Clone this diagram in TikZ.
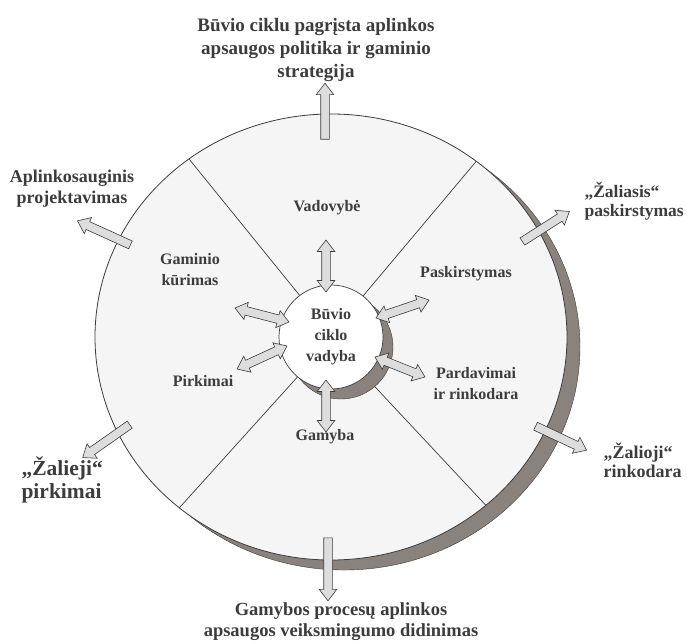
\documentclass[tikz,border=0pt]{standalone}
\usepackage{fontspec}
\setmainfont{Liberation Serif}
\usepackage{tikz}
\usetikzlibrary{calc, shapes.arrows}

\definecolor{inkgray}{HTML}{3C3C3C}
\definecolor{diskfill}{HTML}{F5F5F5}
\definecolor{shadowgray}{HTML}{8A837D}
\definecolor{arrowfill}{HTML}{DDDDDD}

% block arrow from #2 to #3 with style #1
\newcommand{\blockarrow}[3]{%
  \path let \p1=($(#3)-(#2)$), \n1={veclen(\x1,\y1)}, \n2={atan2(\y1,\x1)} in
    node[#1, rotate=\n2, minimum height=\n1] at ($(#2)!0.5!(#3)$) {};}

\begin{document}
\begin{tikzpicture}[
      x=1pt, y=-1pt,
      outarrow/.style={single arrow, draw=inkgray, fill=arrowfill, line width=0.6pt,
        inner sep=0pt, inner ysep=4pt, minimum width=0pt,
        single arrow head extend=4.5pt, single arrow tip angle=75},
      duoarrow/.style={double arrow, draw=inkgray, fill=arrowfill, line width=0.6pt,
        inner sep=0pt, inner ysep=4pt, minimum width=0pt,
        double arrow head extend=4.5pt, double arrow tip angle=75},
      sector/.style={font=\fontsize{16}{21}\selectfont\bfseries, text=inkgray, align=center},
      outer/.style={font=\fontsize{18}{21}\selectfont\bfseries, text=inkgray},
      divider/.style={draw=inkgray, line width=0.7pt}
    ]
    \useasboundingbox (0,0) rectangle (687,643);
    \coordinate (c) at (331,337);

    % disk with its shadow
    \fill[shadowgray, draw=inkgray] ([xshift=13pt, yshift=-10pt]c) ellipse [x radius=236pt, y radius=223pt];
    \draw[fill=diskfill, draw=inkgray, line width=0.8pt] (c) ellipse [x radius=236pt, y radius=223pt];

    \foreach \a in {52,127,230,311}
      \draw[divider] ($(c)+(\a:52pt)$) -- ($(c)+(\a:236pt and 223pt)$);

    % centre
    \fill[shadowgray, draw=inkgray] ([xshift=10pt, yshift=-10pt]c) circle [radius=52pt];
    \node[circle, draw=inkgray, fill=white, line width=0.7pt, minimum size=104pt,
          sector] (core) at (c) {Būvio\\ciklo\\vadyba};

    % arrows
    \blockarrow{outarrow}{325,142}{325,86}
    \blockarrow{outarrow}{133,246}{80,222}
    \blockarrow{outarrow}{520,243}{567,213}
    \blockarrow{outarrow}{132,423}{85,456}
    \blockarrow{outarrow}{533,425}{584,449}
    \blockarrow{outarrow}{328,535}{328,598}

    \blockarrow{duoarrow}{326,240}{326,292}
    \blockarrow{duoarrow}{235,308}{289,322}
    \blockarrow{duoarrow}{237,369}{287,346}
    \blockarrow{duoarrow}{376,318}{429,300}
    \blockarrow{duoarrow}{375,357}{425,377}
    \blockarrow{duoarrow}{326,380}{326,432}

    % sectors
    \node[sector] (lead) at (327,208) {Vadovybė};
    \node[sector] (design) at (190,270) {Gaminio\\kūrimas};
    \node[sector] (distr) at (466,274) {Paskirstymas};
    \node[sector] (sales) at (476,384) {Pardavimai\\ir rinkodara};
    \node[sector] (buy) at (203,381) {Pirkimai};
    \node[sector] (prod) at (325,437) {Gamyba};

    % outer labels
    \node[outer, font=\fontsize{19}{23}\selectfont\bfseries, align=center] (policy) at (316,50)
      {Būvio ciklu pagrįsta aplinkos\\apsaugos politika ir gaminio\\strategija};
    \node[outer, align=center] (ecodesign) at (72,189) {Aplinkosauginis\\projektavimas};
    \node[outer, font=\fontsize{17.5}{19}\selectfont\bfseries, align=left, anchor=west] (greendistr) at (581,201)
      {„Žaliasis“\\paskirstymas};
    \node[outer, font=\fontsize{21.5}{23}\selectfont\bfseries, align=left, anchor=west] (greenbuy) at (18,480)
      {„Žalieji“\\pirkimai};
    \node[outer, font=\fontsize{18}{19}\selectfont\bfseries, align=left, anchor=west] (greenmkt) at (600,460)
      {„Žalioji“\\rinkodara};
    \node[outer, font=\fontsize{18.5}{21}\selectfont\bfseries, align=center] (process) at (341,622)
      {Gamybos procesų aplinkos\\apsaugos veiksmingumo didinimas};
\end{tikzpicture}
\end{document}
